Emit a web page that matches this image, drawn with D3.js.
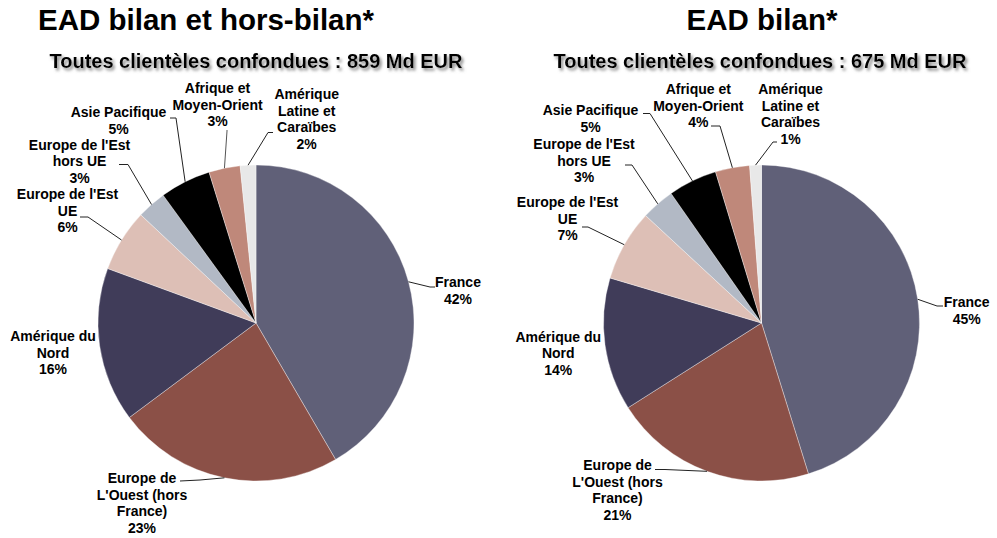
<!DOCTYPE html>
<html>
<head>
<meta charset="utf-8">
<script src="https://cdn.jsdelivr.net/npm/d3@7"></script>
<style>
  html, body { margin: 0; padding: 0; background: #fff; }
  svg { display: block; }
  text { font-family: "Liberation Sans", Arial, sans-serif; font-weight: bold; fill: #000; }
</style>
</head>
<body>
<svg id="chart" width="997" height="538"></svg>
<script>
// ---------- DATA ----------
const categories = [
  "France",
  "Europe de L'Ouest (hors France)",
  "Amérique du Nord",
  "Europe de l'Est UE",
  "Europe de l'Est hors UE",
  "Asie Pacifique",
  "Afrique et Moyen-Orient",
  "Amérique Latine et Caraïbes"
];
const labelLines = [
  ["France"],
  ["Europe de", "L'Ouest (hors", "France)"],
  ["Amérique du", "Nord"],
  ["Europe de l'Est", "UE"],
  ["Europe de l'Est", "hors UE"],
  ["Asie Pacifique"],
  ["Afrique et", "Moyen-Orient"],
  ["Amérique", "Latine et", "Caraïbes"]
];
// share in %
const valuesTotal = [41.6, 23.2, 15.8, 6.4, 3.0, 5.2, 3.2, 1.6];   // EAD bilan et hors-bilan
const valuesBilan = [45.2, 20.8, 13.6, 7.3, 3.4, 5.0, 3.5, 1.2];   // EAD bilan
const titles = ["EAD bilan et hors-bilan*", "EAD bilan*"];
const subtitles = ["Toutes clientèles confondues : 859 Md EUR", "Toutes clientèles confondues : 675 Md EUR"];

// ---------- STYLE / LAYOUT ----------
const colors = ["#606078", "#8B5047", "#403C59", "#DDBFB6", "#B2B9C5", "#000000", "#BF887A", "#E8E8E8"];
const R = 158;
const panels = [
  {
    cx: 256, cy: 323, titleX: 206, subX: 256,
    labels: [
      {x: 458, y: 287, lead: [[435, 287], [430, 287]]},
      {x: 142, y: 483, lead: [[180, 481], [200, 480]]},
      {x: 53,  y: 341, lead: null},
      {x: 67.5, y: 199, lead: [[80, 217], [88, 217]]},
      {x: 79.5, y: 149.5, lead: [[119, 164.5], [128, 164.5]]},
      {x: 118.5, y: 117, lead: [[170, 118], [176, 118]]},
      {x: 217.5, y: 93, lead: [[227, 130], [227, 131]]},
      {x: 306.7, y: 99, lead: [[273, 132.5], [268, 132.5]]}
    ]
  },
  {
    cx: 761.5, cy: 323, titleX: 762, subX: 760,
    labels: [
      {x: 966.7, y: 307.3, lead: [[943, 306], [937, 306]]},
      {x: 617.5, y: 470, lead: [[655, 469.5], [665, 469.5]]},
      {x: 558.3, y: 341.7, lead: null},
      {x: 567.5, y: 207.3, lead: [[582, 227], [588, 227]]},
      {x: 584, y: 149, lead: [[625, 165], [632, 165]]},
      {x: 590.5, y: 115, lead: [[643, 113.5], [650, 113.5]]},
      {x: 698.3, y: 94, lead: [[711, 126], [720, 126]]},
      {x: 790.5, y: 94, lead: [[777, 142], [773, 142]]}
    ]
  }
];
const datasets = [valuesTotal, valuesBilan];
const LH = 16.5;

const svg = d3.select("#chart");
const defs = svg.append("defs");
const f = defs.append("filter").attr("id", "shadow")
  .attr("x", "-5%").attr("y", "-30%").attr("width", "110%").attr("height", "170%");
f.append("feDropShadow").attr("dx", 2).attr("dy", 2.5).attr("stdDeviation", 1.6)
  .attr("flood-color", "#7a7a7a").attr("flood-opacity", 0.9);

const pie = d3.pie().sort(null).value(d => d).startAngle(0).endAngle(2 * Math.PI);
const arc = d3.arc().innerRadius(0).outerRadius(R);

panels.forEach((p, pi) => {
  const values = datasets[pi];
  const total = d3.sum(values);
  const arcs = pie(values);

  // titles
  svg.append("text").attr("x", p.titleX).attr("y", 30)
    .attr("text-anchor", "middle").style("font-size", "29.5px")
    .text(titles[pi]);
  svg.append("text").attr("x", p.subX).attr("y", 68)
    .attr("text-anchor", "middle").style("font-size", "20px")
    .attr("filter", "url(#shadow)")
    .text(subtitles[pi]);

  const g = svg.append("g").attr("transform", `translate(${p.cx},${p.cy})`);
  g.selectAll("path.slice").data(arcs).enter().append("path")
    .attr("class", "slice")
    .attr("d", arc)
    .attr("fill", (d, i) => colors[i])
    .attr("stroke", "#ffffff")
    .attr("stroke-opacity", 0.6)
    .attr("stroke-width", 0.6);

  // leader lines
  const line = d3.line();
  arcs.forEach((d, i) => {
    const L = p.labels[i];
    if (!L.lead) return;
    const mid = (d.startAngle + d.endAngle) / 2;
    const end = [p.cx + R * Math.sin(mid), p.cy - R * Math.cos(mid)];
    svg.append("path")
      .attr("d", line([L.lead[0], L.lead[1], end]))
      .attr("fill", "none")
      .attr("stroke", i === 6 && pi === 0 ? "#555" : "#222")
      .attr("stroke-width", 1);
  });

  // labels
  arcs.forEach((d, i) => {
    const L = p.labels[i];
    const lines = labelLines[i].concat([Math.round(values[i] / total * 100) + "%"]);
    const t = svg.append("text").attr("text-anchor", "middle").style("font-size", "14px");
    lines.forEach((s, k) => {
      t.append("tspan").attr("x", L.x).attr("y", L.y + k * LH).text(s);
    });
  });
});
</script>
</body>
</html>
